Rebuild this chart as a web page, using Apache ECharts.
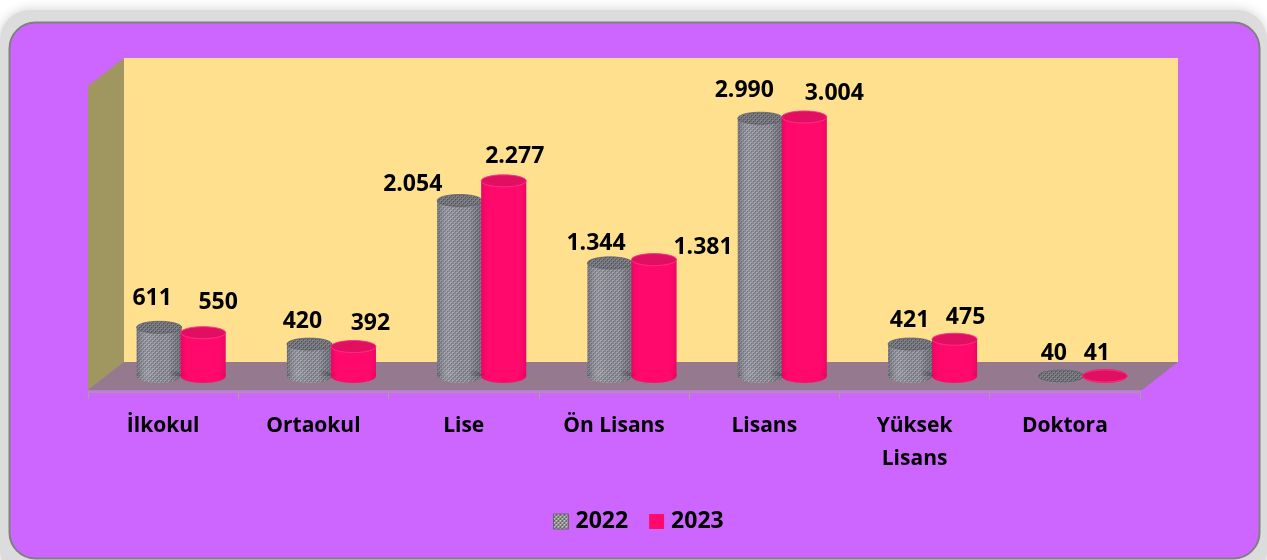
<!DOCTYPE html>
<html>
<head>
<meta charset="utf-8">
<style>
  html, body { margin: 0; padding: 0; background: #fff; }
  #chart { width: 1267px; height: 560px; }
</style>
<script src="https://cdn.jsdelivr.net/npm/echarts@6/dist/echarts.min.js"></script>
</head>
<body>
<div id="chart"></div>
<script>
const categories = ["İlkokul", "Ortaokul", "Lise", "Ön Lisans", "Lisans", "Yüksek\nLisans", "Doktora"];
const values2022 = [611, 420, 2054, 1344, 2990, 421, 40];
const values2023 = [550, 392, 2277, 1381, 3004, 475, 41];

// hand placed label nudges [dx, dy] from the centre of each cylinder top
const nudges2022 = [[-7, -29], [-7, -23], [-47, -16], [-14, -19], [-16, -28], [-1, -24], [-7, -24]];
const nudges2023 = [[15, -30], [17, -23], [11, -24], [49, -12], [30, -24], [11, -22], [-8, -24]];

const FONT_NAME = '"Open Sans", sans-serif';
const FONT = 'bold 23px ' + FONT_NAME;
const RED = "#FF0A6C";

// checker weave used by the 2022 cylinders
function weave(base, light, dark) {
  const c = document.createElement("canvas");
  c.width = 4;
  c.height = 4;
  const g = c.getContext("2d");
  g.fillStyle = base;
  g.fillRect(0, 0, 4, 4);
  g.fillStyle = light;
  g.fillRect(0, 0, 2, 2);
  g.fillRect(2, 2, 2, 2);
  g.fillStyle = dark;
  g.fillRect(1, 1, 1, 1);
  g.fillRect(3, 3, 1, 1);
  return c;
}
const weaveFill = { image: weave("#84848f", "#a2a2ac", "#6c6c77"), repeat: "repeat" };
const weaveTop = { image: weave("#6c6c74", "#85858c", "#4c4c54"), repeat: "repeat" };
const weaveKey = { image: weave("#6a6a6a", "#c8c8c8", "#8a8a8a"), repeat: "repeat" };

function fmt(v) {
  return String(v).replace(/\B(?=(\d{3})+(?!\d))/g, ".");
}

function sideShade(stops) {
  return {
    type: "linear", x: 0, y: 0, x2: 1, y2: 0,
    colorStops: stops.map((s) => ({ offset: s[0], color: s[1] })),
  };
}

function cylinder(side, bodyFill, topFill, topEdge, shade, nudges) {
  return (params, api) => {
    const rx = 22.5, ry = 7;
    const i = api.value(0);
    const p = api.coord([i, api.value(1)]);
    const zero = api.coord([i, 0]);
    const cx = p[0] + 18 + side * 22;
    const baseY = zero[1] - 5;
    const topY = Math.min(p[1], baseY);
    const n = nudges[i];
    const shapes = [];
    [bodyFill, shade].forEach((fill) => {
      shapes.push({ type: "ellipse", shape: { cx, cy: baseY, rx, ry }, style: { fill } });
      shapes.push({
        type: "rect",
        shape: { x: cx - rx, y: topY, width: rx * 2, height: baseY - topY },
        style: { fill },
      });
    });
    shapes.push({
      type: "ellipse",
      shape: { cx, cy: topY, rx, ry: ry - 1 },
      style: { fill: topFill, stroke: topEdge, lineWidth: 1 },
    });
    shapes.push({
      type: "text",
      style: {
        text: fmt(api.value(1)),
        x: cx + n[0],
        y: p[1] + n[1],
        font: FONT,
        fill: "#000",
        align: "center",
        verticalAlign: "middle",
      },
    });
    return { type: "group", children: shapes };
  };
}

const chart = echarts.init(document.getElementById("chart"), null, { renderer: "canvas" });

chart.setOption({
  animation: false,
  graphic: [
    { type: "rect", z: -10, shape: { x: 0, y: 10, width: 1267, height: 570, r: 30 },
      style: { fill: "#dcdcdc", shadowBlur: 12, shadowColor: "#cfcfcf" } },
    { type: "rect", z: -9, shape: { x: 9.5, y: 22.5, width: 1250, height: 536, r: 26 },
      style: { fill: "#CC66FF", stroke: "#808080", lineWidth: 2 } },
    { type: "polygon", z: -8, shape: { points: [[124, 58], [1178, 58], [1178, 362], [124, 362]] },
      style: { fill: "#FFE08F" } },
    { type: "polygon", z: -8, shape: { points: [[88, 86], [124, 58], [124, 362], [88, 390]] },
      style: { fill: "#A0965F" } },
    { type: "polygon", z: -8, shape: { points: [[88, 390], [124, 362], [1178, 362], [1142, 390]] },
      style: { fill: "#94798F" } },
  ],
  legend: {
    top: 505,
    left: 548,
    itemWidth: 15,
    itemHeight: 15,
    itemGap: 21,
    textStyle: { fontFamily: FONT_NAME, fontWeight: "bold", fontSize: 23, color: "#000", padding: [0, 0, 0, 2] },
    data: [
      { name: "2022", icon: "rect", itemStyle: { color: weaveKey, borderColor: "#666", borderWidth: 1 } },
      { name: "2023", icon: "rect", itemStyle: { color: RED } },
    ],
  },
  grid: { left: 88, top: 58, width: 1052, height: 323 },
  xAxis: {
    type: "category",
    data: categories,
    offset: 11,
    boundaryGap: true,
    axisLine: { onZero: false, lineStyle: { color: "#A3A38E", width: 1.5 } },
    axisTick: { show: true, alignWithLabel: false, length: 7, lineStyle: { color: "#A3A38E" } },
    axisLabel: {
      interval: 0,
      margin: 18,
      color: "#000",
      fontFamily: FONT_NAME,
      fontWeight: "bold",
      fontSize: 21,
      lineHeight: 33,
    },
  },
  yAxis: { type: "value", min: 0, max: 3675, show: false },
  series: [
    {
      name: "2022",
      type: "custom",
      z: 2,
      data: values2022.map((v, i) => [i, v]),
      encode: { x: 0, y: 1 },
      itemStyle: { color: "#8a8a94" },
      renderItem: cylinder(
        -1,
        weaveFill,
        weaveTop,
        "rgba(90,90,100,0.7)",
        sideShade([[0, "rgba(50,50,60,0.3)"], [0.3, "rgba(255,255,255,0.05)"], [0.7, "rgba(0,0,0,0)"], [1, "rgba(40,40,50,0.3)"]]),
        nudges2022
      ),
    },
    {
      name: "2023",
      type: "custom",
      z: 3,
      data: values2023.map((v, i) => [i, v]),
      encode: { x: 0, y: 1 },
      itemStyle: { color: RED },
      renderItem: cylinder(
        1,
        RED,
        "#E00F62",
        "rgba(255,50,130,0.9)",
        sideShade([[0, "rgba(190,0,80,0.35)"], [0.2, "rgba(255,0,110,0)"], [0.8, "rgba(255,0,110,0)"], [1, "rgba(190,0,80,0.35)"]]),
        nudges2023
      ),
    },
  ],
});
</script>
</body>
</html>
